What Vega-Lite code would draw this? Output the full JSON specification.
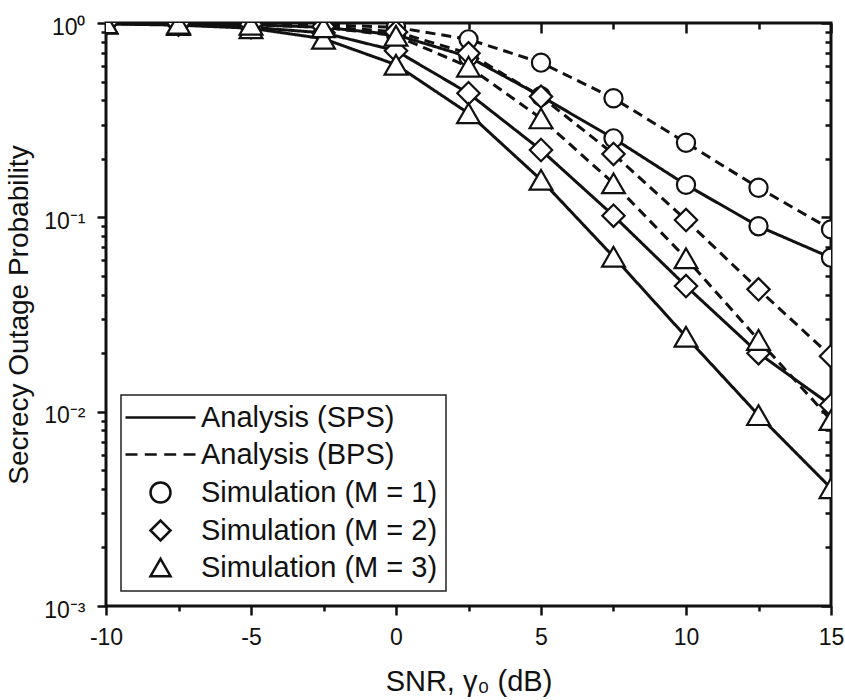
{
  "$schema": "https://vega.github.io/schema/vega-lite/v6.json",
  "width": 725,
  "height": 583,
  "autosize": "none",
  "padding": {"left": 106, "top": 23, "right": 14, "bottom": 94},
  "background": "white",
  "config": {
    "font": "Liberation Sans",
    "view": {"stroke": "#111", "strokeWidth": 3},
    "axis": {"grid": false, "domain": false, "tickColor": "#111", "tickWidth": 2.5, "labelColor": "#111", "titleColor": "#111", "labelFont": "Liberation Sans", "titleFont": "Liberation Sans", "titleFontWeight": "normal"},
    "legend": {
      "orient": "bottom-left", "offset": 15, "padding": 8, "rowPadding": 7,
      "symbolSize": 400, "symbolOffset": 17, "labelOffset": 26, "symbolStrokeWidth": 2.5,
      "labelFontSize": 29, "labelFont": "Liberation Sans", "labelColor": "#111", "labelLimit": 0,
      "strokeColor": "#222", "strokeWidth": 1.5, "fillColor": "white"
    }
  },
  "data": {"values": [
    {"snr": -10, "p": 0.995, "scheme": "SPS", "m": "Simulation (M = 1)", "curve": "SPS1"},
    {"snr": -7.5, "p": 0.99, "scheme": "SPS", "m": "Simulation (M = 1)", "curve": "SPS1"},
    {"snr": -5, "p": 0.98, "scheme": "SPS", "m": "Simulation (M = 1)", "curve": "SPS1"},
    {"snr": -2.5, "p": 0.95, "scheme": "SPS", "m": "Simulation (M = 1)", "curve": "SPS1"},
    {"snr": 0, "p": 0.87, "scheme": "SPS", "m": "Simulation (M = 1)", "curve": "SPS1"},
    {"snr": 2.5, "p": 0.67, "scheme": "SPS", "m": "Simulation (M = 1)", "curve": "SPS1"},
    {"snr": 5, "p": 0.42, "scheme": "SPS", "m": "Simulation (M = 1)", "curve": "SPS1"},
    {"snr": 7.5, "p": 0.255, "scheme": "SPS", "m": "Simulation (M = 1)", "curve": "SPS1"},
    {"snr": 10, "p": 0.147, "scheme": "SPS", "m": "Simulation (M = 1)", "curve": "SPS1"},
    {"snr": 12.5, "p": 0.09, "scheme": "SPS", "m": "Simulation (M = 1)", "curve": "SPS1"},
    {"snr": 15, "p": 0.062, "scheme": "SPS", "m": "Simulation (M = 1)", "curve": "SPS1"},

    {"snr": -10, "p": 0.99, "scheme": "SPS", "m": "Simulation (M = 2)", "curve": "SPS2"},
    {"snr": -7.5, "p": 0.98, "scheme": "SPS", "m": "Simulation (M = 2)", "curve": "SPS2"},
    {"snr": -5, "p": 0.95, "scheme": "SPS", "m": "Simulation (M = 2)", "curve": "SPS2"},
    {"snr": -2.5, "p": 0.89, "scheme": "SPS", "m": "Simulation (M = 2)", "curve": "SPS2"},
    {"snr": 0, "p": 0.72, "scheme": "SPS", "m": "Simulation (M = 2)", "curve": "SPS2"},
    {"snr": 2.5, "p": 0.435, "scheme": "SPS", "m": "Simulation (M = 2)", "curve": "SPS2"},
    {"snr": 5, "p": 0.222, "scheme": "SPS", "m": "Simulation (M = 2)", "curve": "SPS2"},
    {"snr": 7.5, "p": 0.102, "scheme": "SPS", "m": "Simulation (M = 2)", "curve": "SPS2"},
    {"snr": 10, "p": 0.0443, "scheme": "SPS", "m": "Simulation (M = 2)", "curve": "SPS2"},
    {"snr": 12.5, "p": 0.02, "scheme": "SPS", "m": "Simulation (M = 2)", "curve": "SPS2"},
    {"snr": 15, "p": 0.0108, "scheme": "SPS", "m": "Simulation (M = 2)", "curve": "SPS2"},

    {"snr": -10, "p": 0.99, "scheme": "SPS", "m": "Simulation (M = 3)", "curve": "SPS3"},
    {"snr": -7.5, "p": 0.975, "scheme": "SPS", "m": "Simulation (M = 3)", "curve": "SPS3"},
    {"snr": -5, "p": 0.94, "scheme": "SPS", "m": "Simulation (M = 3)", "curve": "SPS3"},
    {"snr": -2.5, "p": 0.83, "scheme": "SPS", "m": "Simulation (M = 3)", "curve": "SPS3"},
    {"snr": 0, "p": 0.61, "scheme": "SPS", "m": "Simulation (M = 3)", "curve": "SPS3"},
    {"snr": 2.5, "p": 0.343, "scheme": "SPS", "m": "Simulation (M = 3)", "curve": "SPS3"},
    {"snr": 5, "p": 0.156, "scheme": "SPS", "m": "Simulation (M = 3)", "curve": "SPS3"},
    {"snr": 7.5, "p": 0.0627, "scheme": "SPS", "m": "Simulation (M = 3)", "curve": "SPS3"},
    {"snr": 10, "p": 0.0243, "scheme": "SPS", "m": "Simulation (M = 3)", "curve": "SPS3"},
    {"snr": 12.5, "p": 0.0096, "scheme": "SPS", "m": "Simulation (M = 3)", "curve": "SPS3"},
    {"snr": 15, "p": 0.00404, "scheme": "SPS", "m": "Simulation (M = 3)", "curve": "SPS3"},

    {"snr": -10, "p": 0.998, "scheme": "BPS", "m": "Simulation (M = 1)", "curve": "BPS1"},
    {"snr": -7.5, "p": 0.995, "scheme": "BPS", "m": "Simulation (M = 1)", "curve": "BPS1"},
    {"snr": -5, "p": 0.99, "scheme": "BPS", "m": "Simulation (M = 1)", "curve": "BPS1"},
    {"snr": -2.5, "p": 0.98, "scheme": "BPS", "m": "Simulation (M = 1)", "curve": "BPS1"},
    {"snr": 0, "p": 0.95, "scheme": "BPS", "m": "Simulation (M = 1)", "curve": "BPS1"},
    {"snr": 2.5, "p": 0.824, "scheme": "BPS", "m": "Simulation (M = 1)", "curve": "BPS1"},
    {"snr": 5, "p": 0.625, "scheme": "BPS", "m": "Simulation (M = 1)", "curve": "BPS1"},
    {"snr": 7.5, "p": 0.41, "scheme": "BPS", "m": "Simulation (M = 1)", "curve": "BPS1"},
    {"snr": 10, "p": 0.242, "scheme": "BPS", "m": "Simulation (M = 1)", "curve": "BPS1"},
    {"snr": 12.5, "p": 0.142, "scheme": "BPS", "m": "Simulation (M = 1)", "curve": "BPS1"},
    {"snr": 15, "p": 0.0867, "scheme": "BPS", "m": "Simulation (M = 1)", "curve": "BPS1"},

    {"snr": -10, "p": 0.997, "scheme": "BPS", "m": "Simulation (M = 2)", "curve": "BPS2"},
    {"snr": -7.5, "p": 0.993, "scheme": "BPS", "m": "Simulation (M = 2)", "curve": "BPS2"},
    {"snr": -5, "p": 0.985, "scheme": "BPS", "m": "Simulation (M = 2)", "curve": "BPS2"},
    {"snr": -2.5, "p": 0.96, "scheme": "BPS", "m": "Simulation (M = 2)", "curve": "BPS2"},
    {"snr": 0, "p": 0.9, "scheme": "BPS", "m": "Simulation (M = 2)", "curve": "BPS2"},
    {"snr": 2.5, "p": 0.698, "scheme": "BPS", "m": "Simulation (M = 2)", "curve": "BPS2"},
    {"snr": 5, "p": 0.418, "scheme": "BPS", "m": "Simulation (M = 2)", "curve": "BPS2"},
    {"snr": 7.5, "p": 0.212, "scheme": "BPS", "m": "Simulation (M = 2)", "curve": "BPS2"},
    {"snr": 10, "p": 0.0968, "scheme": "BPS", "m": "Simulation (M = 2)", "curve": "BPS2"},
    {"snr": 12.5, "p": 0.0426, "scheme": "BPS", "m": "Simulation (M = 2)", "curve": "BPS2"},
    {"snr": 15, "p": 0.0193, "scheme": "BPS", "m": "Simulation (M = 2)", "curve": "BPS2"},

    {"snr": -10, "p": 0.996, "scheme": "BPS", "m": "Simulation (M = 3)", "curve": "BPS3"},
    {"snr": -7.5, "p": 0.99, "scheme": "BPS", "m": "Simulation (M = 3)", "curve": "BPS3"},
    {"snr": -5, "p": 0.98, "scheme": "BPS", "m": "Simulation (M = 3)", "curve": "BPS3"},
    {"snr": -2.5, "p": 0.95, "scheme": "BPS", "m": "Simulation (M = 3)", "curve": "BPS3"},
    {"snr": 0, "p": 0.86, "scheme": "BPS", "m": "Simulation (M = 3)", "curve": "BPS3"},
    {"snr": 2.5, "p": 0.596, "scheme": "BPS", "m": "Simulation (M = 3)", "curve": "BPS3"},
    {"snr": 5, "p": 0.323, "scheme": "BPS", "m": "Simulation (M = 3)", "curve": "BPS3"},
    {"snr": 7.5, "p": 0.1496, "scheme": "BPS", "m": "Simulation (M = 3)", "curve": "BPS3"},
    {"snr": 10, "p": 0.0616, "scheme": "BPS", "m": "Simulation (M = 3)", "curve": "BPS3"},
    {"snr": 12.5, "p": 0.0234, "scheme": "BPS", "m": "Simulation (M = 3)", "curve": "BPS3"},
    {"snr": 15, "p": 0.00905, "scheme": "BPS", "m": "Simulation (M = 3)", "curve": "BPS3"}
  ]},
  "resolve": {"axis": {"x": "independent", "y": "independent"}},
  "layer": [
    {
      "mark": {"type": "line", "color": "#111", "strokeWidth": 3, "clip": true},
      "encoding": {
        "x": {"field": "snr", "type": "quantitative",
          "scale": {"domain": [-10, 15], "nice": false, "zero": false},
          "axis": {"orient": "bottom", "values": [-10, -5, 0, 5, 10, 15],
            "labelExpr": "'' + datum.value",
            "labelOverlap": false, "labelFlush": false, "labelFontSize": 23, "tickSize": 9, "labelPadding": 11,
            "title": "SNR, γ₀ (dB)", "titleFontSize": 29, "titlePadding": 18}},
        "y": {"field": "p", "type": "quantitative",
          "scale": {"type": "log", "domain": [0.001, 1], "nice": false},
          "axis": {"orient": "left", "values": [0.001, 0.01, 0.1, 1],
            "labelExpr": "datum.value == 1 ? '10⁰' : datum.value == 0.1 ? '10⁻¹' : datum.value == 0.01 ? '10⁻²' : '10⁻³'",
            "labelOverlap": false, "labelFlush": false, "labelFontSize": 23, "tickSize": 9, "labelPadding": 12, "labelOffset": 4,
            "title": "Secrecy Outage Probability", "titleFontSize": 28, "titlePadding": 10}},
        "detail": {"field": "curve"},
        "strokeDash": {"field": "scheme", "type": "nominal", "scale": {"domain": ["SPS", "BPS"], "range": [[1, 0], [10, 6]]}, "legend": null}
      }
    },
    {
      "transform": [{"filter": "datum.m == 'Simulation (M = 1)'"}],
      "mark": {"type": "point", "filled": true, "fill": "white", "stroke": "#111", "strokeWidth": 2.2, "opacity": 1, "size": 330, "clip": true},
      "encoding": {
        "x": {"field": "snr", "type": "quantitative",
          "axis": {"orient": "top", "values": [-10, -5, 0, 5, 10, 15], "labels": false, "title": null, "tickSize": 10, "offset": -10}},
        "y": {"field": "p", "type": "quantitative",
          "axis": {"orient": "right", "values": [0.001, 0.01, 0.1, 1], "labels": false, "title": null, "tickSize": 10, "offset": -10}},
        "shape": {"field": "m", "type": "nominal",
          "scale": {"domain": ["Analysis (SPS)", "Analysis (BPS)", "Simulation (M = 1)", "Simulation (M = 2)", "Simulation (M = 3)"],
            "range": ["M-3.5,0H3.5", "M-3.5,0H-2.3M-1.57,0H-0.37M0.37,0H1.57M2.3,0H3.5", "circle", "diamond", "triangle-up"]},
          "legend": {"title": null}}
      }
    },
    {
      "transform": [{"filter": "datum.m == 'Simulation (M = 2)'"}],
      "mark": {"type": "point", "filled": true, "fill": "white", "stroke": "#111", "strokeWidth": 2.2, "opacity": 1, "size": 500, "clip": true},
      "encoding": {
        "x": {"field": "snr", "type": "quantitative",
          "axis": {"orient": "bottom", "values": [-7.5, -2.5, 2.5, 7.5, 12.5], "labels": false, "title": null, "tickSize": 5}},
        "y": {"field": "p", "type": "quantitative",
          "axis": {"orient": "left", "values": [0.002, 0.003, 0.004, 0.005, 0.006, 0.007, 0.008, 0.009, 0.02, 0.03, 0.04, 0.05, 0.06, 0.07, 0.08, 0.09, 0.2, 0.3, 0.4, 0.5, 0.6, 0.7, 0.8, 0.9], "labels": false, "title": null, "tickSize": 5}},
        "shape": {"field": "m", "type": "nominal"}
      }
    },
    {
      "transform": [{"filter": "datum.m == 'Simulation (M = 3)'"}],
      "mark": {"type": "point", "filled": true, "fill": "white", "stroke": "#111", "strokeWidth": 2.2, "opacity": 1, "size": 520, "clip": true},
      "encoding": {
        "x": {"field": "snr", "type": "quantitative",
          "axis": {"orient": "top", "values": [-7.5, -2.5, 2.5, 7.5, 12.5], "labels": false, "title": null, "tickSize": 6, "offset": -6}},
        "y": {"field": "p", "type": "quantitative",
          "axis": {"orient": "right", "values": [0.002, 0.003, 0.004, 0.005, 0.006, 0.007, 0.008, 0.009, 0.02, 0.03, 0.04, 0.05, 0.06, 0.07, 0.08, 0.09, 0.2, 0.3, 0.4, 0.5, 0.6, 0.7, 0.8, 0.9], "labels": false, "title": null, "tickSize": 6, "offset": -6}},
        "shape": {"field": "m", "type": "nominal"}
      }
    }
  ]
}
